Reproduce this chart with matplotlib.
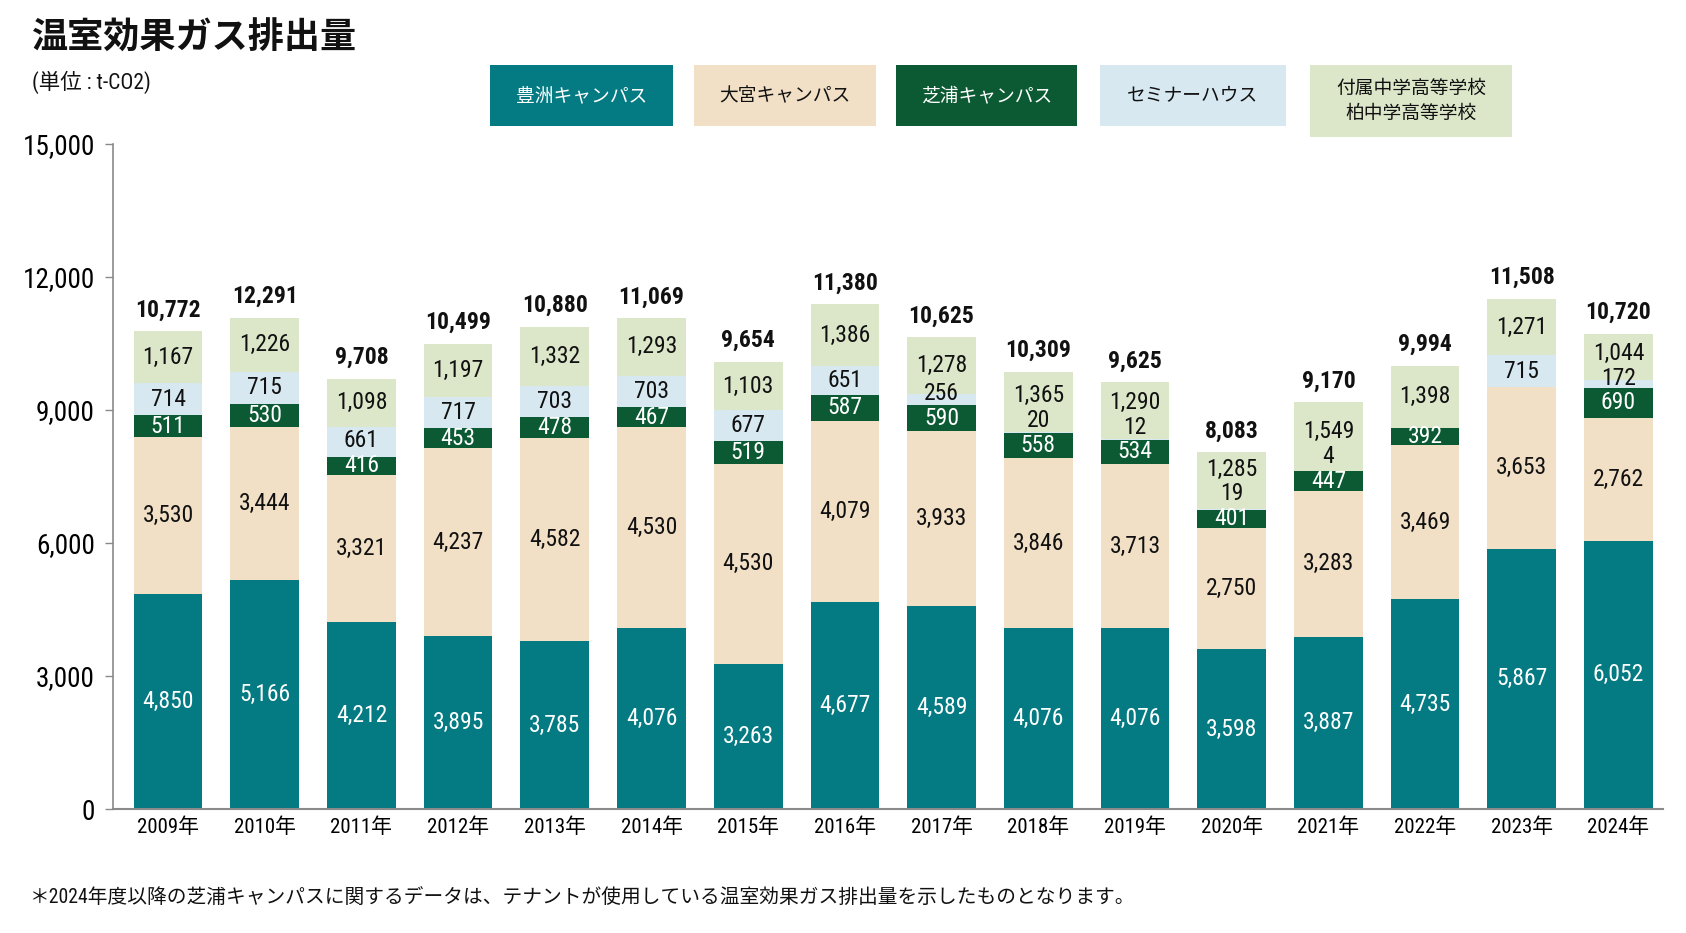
import matplotlib
matplotlib.use("Agg")
import matplotlib.pyplot as plt
from matplotlib import font_manager as fm
from matplotlib.patches import Rectangle
import numpy as np

# ---------------- data ----------------
years = ['2009年', '2010年', '2011年', '2012年', '2013年', '2014年', '2015年', '2016年',
         '2017年', '2018年', '2019年', '2020年', '2021年', '2022年', '2023年', '2024年']
toyosu = [4850, 5166, 4212, 3895, 3785, 4076, 3263, 4677, 4589, 4076, 4076, 3598, 3887, 4735, 5867, 6052]
omiya = [3530, 3444, 3321, 4237, 4582, 4530, 4530, 4079, 3933, 3846, 3713, 2750, 3283, 3469, 3653, 2762]
shibaura = [511, 530, 416, 453, 478, 467, 519, 587, 590, 558, 534, 401, 447, 392, 0, 690]
seminar = [714, 715, 661, 717, 703, 703, 677, 651, 256, 20, 12, 19, 4, 0, 715, 172]
schools = [1167, 1226, 1098, 1197, 1332, 1293, 1103, 1386, 1278, 1365, 1290, 1285, 1549, 1398, 1271, 1044]
totals = [10772, 12291, 9708, 10499, 10880, 11069, 9654, 11380, 10625, 10309, 9625, 8083, 9170, 9994, 11508, 10720]

series_names = ['豊洲キャンパス', '大宮キャンパス', '芝浦キャンパス', 'セミナーハウス', '付属中学高等学校\n柏中学高等学校']
yticks = [0, 3000, 6000, 9000, 12000, 15000]

title = '温室効果ガス排出量'
unit = '(単位 : t-CO2)'
footnote = '＊2024年度以降の芝浦キャンパスに関するデータは、テナントが使用している温室効果ガス排出量を示したものとなります。'

# ---------------- style ----------------
colors = ['#047A82', '#F1DFC6', '#0B5A33', '#D7E8F1', '#DCE6C9']
text_colors = ['white', '#111111', 'white', '#111111', '#111111']
legend_text_colors = ['white', '#111111', 'white', '#111111', '#111111']

names = {f.name for f in fm.fontManager.ttflist}
num_font = 'Liberation Sans'
for cand in ['Liberation Sans Narrow', 'Roboto Condensed', 'Open Sans Condensed', 'Arial Narrow']:
    if cand in names:
        num_font = cand
        break
JP = 'Noto Sans CJK JP'
plt.rcParams['font.family'] = [num_font, JP, 'DejaVu Sans']

W, H = 1686, 933
fig = plt.figure(figsize=(W / 100, H / 100), dpi=100)
fig.patch.set_facecolor('white')

ax_left, ax_right = 113 / W, 1663 / W
ax_bottom, ax_top = (H - 809) / H, (H - 144) / H
ax = fig.add_axes([ax_left, ax_bottom, ax_right - ax_left, ax_top - ax_bottom])

x = np.arange(len(years))
data = [toyosu, omiya, shibaura, seminar, schools]
bottom = np.zeros(len(years))
seg_centers = []
for vals, c in zip(data, colors):
    v = np.array(vals, dtype=float)
    ax.bar(x, v, bottom=bottom, width=0.71, color=c, edgecolor='none', zorder=2)
    seg_centers.append(bottom + v / 2)
    bottom = bottom + v

ax.set_xlim(-0.569, 15.46)
ax.set_ylim(0, 15000)

# segment labels with simple de-overlap
gap = 560
for i in range(len(years)):
    prev = None
    for k, vals in enumerate(data):
        v = vals[i]
        if v == 0:
            continue
        y = seg_centers[k][i]
        if prev is not None and y < prev + gap:
            y = prev + gap
        prev = y
        col = text_colors[k]
        ax.text(i, y, f'{v:,}', ha='center', va='center', fontsize=17,
                color=col, family=[num_font, 'DejaVu Sans'], zorder=3)

# total labels
for i in range(len(years)):
    ax.annotate(f'{totals[i]:,}', xy=(i, bottom[i]), xytext=(0, 7), textcoords='offset points',
                ha='center', va='bottom', fontsize=17, fontweight='bold', color='#111111',
                family=[num_font, 'DejaVu Sans'], zorder=3)

# axes styling
for s in ['top', 'right']:
    ax.spines[s].set_visible(False)
ax.spines['left'].set_color('#8a8a8a')
ax.spines['bottom'].set_color('#8a8a8a')
ax.spines['left'].set_linewidth(1.2)
ax.spines['bottom'].set_linewidth(1.5)
ax.set_yticks(yticks)
ax.set_yticklabels([f'{t:,}' for t in yticks], fontsize=19.5, family=[num_font, 'DejaVu Sans'])
ax.tick_params(axis='y', length=6, width=1, color='#8a8a8a', pad=7)
ax.set_xticks(x)
ax.set_xticklabels(years, fontsize=15, family=[num_font, JP])
ax.tick_params(axis='x', length=0, pad=6)

# title and unit
fig.text(32 / W, 1 - 38 / H, title, fontsize=26, fontweight='bold', family=[JP],
         ha='left', va='center', color='#111111')
fig.text(32 / W, 1 - 82 / H, unit, fontsize=15.5, family=[num_font, JP],
         ha='left', va='center', color='#111111')

# legend boxes
boxes = [(490, 673, 65, 126), (694, 876, 65, 126), (896, 1077, 65, 126),
         (1100, 1286, 65, 126), (1310, 1512, 65, 137)]
for (x0, x1, y0, y1), c, name, tc in zip(boxes, colors, series_names, legend_text_colors):
    fig.patches.append(Rectangle((x0 / W, 1 - y1 / H), (x1 - x0) / W, (y1 - y0) / H,
                                 transform=fig.transFigure, facecolor=c, edgecolor='none'))
    fig.text((x0 + x1) / 2 / W, 1 - (y0 + y1) / 2 / H, name, ha='center', va='center',
             fontsize=13.5, family=[JP], color=tc, linespacing=1.25)

# footnote
fig.text(30 / W, 1 - 897 / H, footnote, fontsize=14.2, family=[num_font, JP],
         ha='left', va='center', color='#111111')

fig.savefig('out.png', dpi=100, facecolor='white')
